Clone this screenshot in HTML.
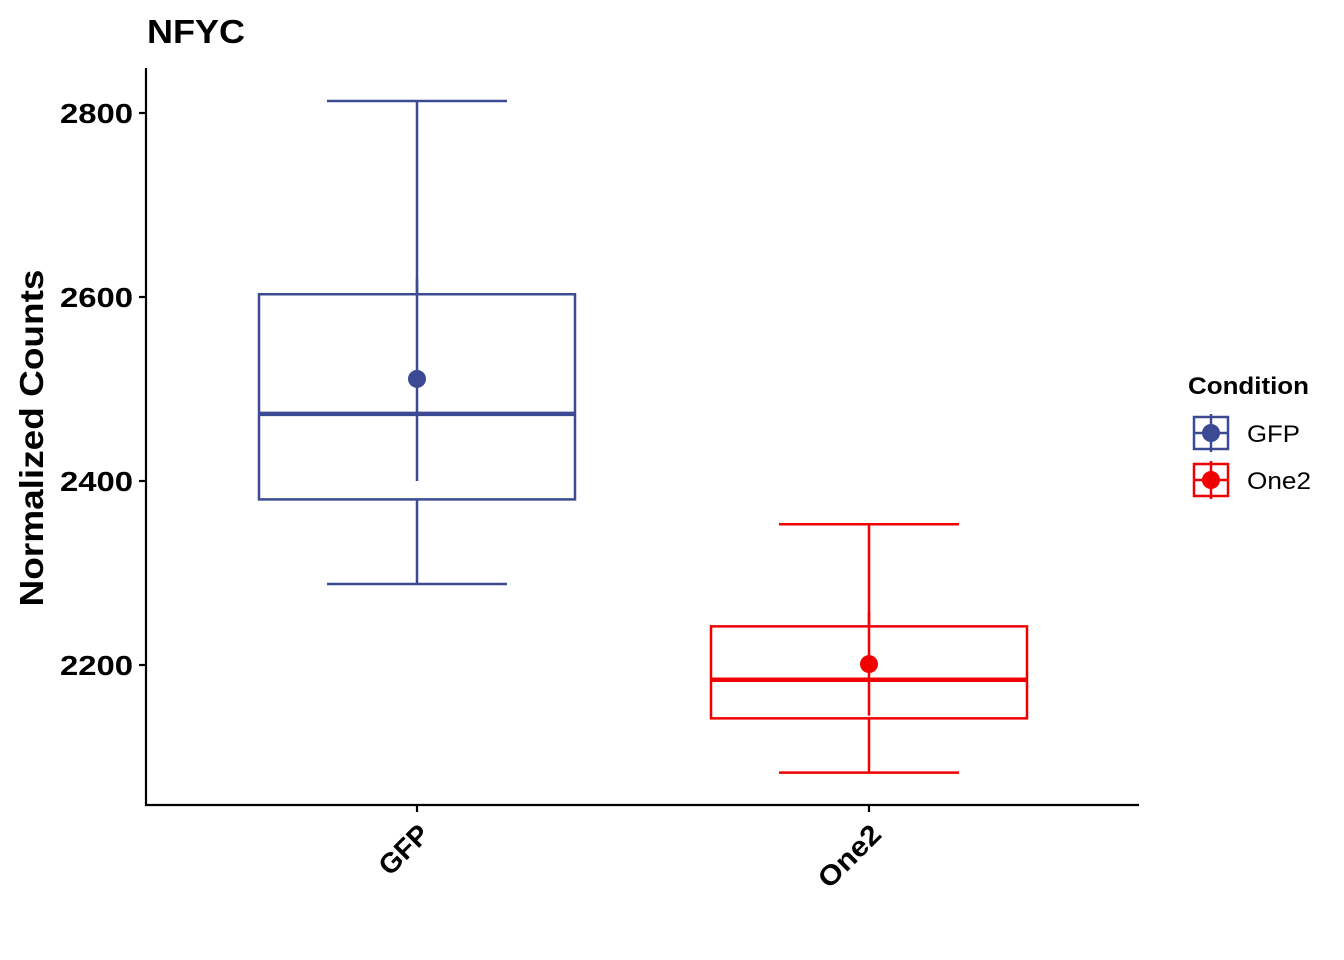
<!DOCTYPE html>
<html><head><meta charset="utf-8">
<style>
html,body{margin:0;padding:0;background:#fff;}
svg{display:block;font-family:"Liberation Sans",Arial,sans-serif;}
</style></head>
<body>
<svg id="chart" width="1344" height="960" viewBox="0 0 1344 960">
<text x="147" y="43" font-size="33" font-weight="bold" textLength="98" lengthAdjust="spacingAndGlyphs">NFYC</text>
<text transform="translate(43,438) rotate(-90)" text-anchor="middle" font-size="33" font-weight="bold" textLength="337" lengthAdjust="spacingAndGlyphs">Normalized Counts</text>
<g id="marks"></g>
<line x1="146" y1="68" x2="146" y2="806" stroke="#000" stroke-width="2.2"/>
<line x1="145" y1="805" x2="1139" y2="805" stroke="#000" stroke-width="2.2"/>
<g id="axes"></g>
<text x="1188" y="394" font-size="24" font-weight="bold" textLength="121" lengthAdjust="spacingAndGlyphs">Condition</text>
<g id="legend"></g>
</svg>
<script>
const categories = ["GFP","One2"];
const colors = ["#3B4A93","#F00000"];
const whiskerLow = [2288,2083];
const q1 = [2380,2142];
const medians = [2473,2184];
const q3 = [2603,2242];
const whiskerHigh = [2813,2353];
const means = [2511,2201];
const errLow = [2400,2145];
const errHigh = [2620,2258];
const yTicks = [2200,2400,2600,2800];

const NS="http://www.w3.org/2000/svg";
function y(v){return 665-(v-2200)*0.92;}
function x(i){return 417+i*452;}
function mk(tag,attrs,parent){const e=document.createElementNS(NS,tag);for(const k in attrs)e.setAttribute(k,attrs[k]);parent.appendChild(e);return e;}
const marks=document.getElementById('marks'), axes=document.getElementById('axes'), legend=document.getElementById('legend');

yTicks.forEach(t=>{
  const l=mk('line',{x1:139,x2:146,y1:y(t),y2:y(t),stroke:'#000','stroke-width':2.2},axes);
  
  
  const tx=mk('text',{x:133,y:y(t)+10,'text-anchor':'end','font-size':28,'font-weight':'bold',textLength:73,lengthAdjust:'spacingAndGlyphs'},axes);
  tx.textContent=t;
  
  
});
categories.forEach((c,i)=>{
  const cx=x(i), col=colors[i];
  const l=mk('line',{x1:cx,x2:cx,y1:805,y2:812,stroke:'#000','stroke-width':2.2},axes);
  
  
  const tx=mk('text',{transform:`translate(${cx+14},${836}) rotate(-45)`,'text-anchor':'end','font-size':28,'font-weight':'bold',lengthAdjust:'spacingAndGlyphs'},axes);
  tx.setAttribute('textLength', i===0?58:76);
  tx.textContent=c;
  
  

  const g=mk('g',{stroke:col,'stroke-width':2.5,fill:'none'},marks);
  
  
  mk('line',{x1:cx,x2:cx,y1:y(whiskerHigh[i]),y2:y(q3[i])},g);
  mk('line',{x1:cx,x2:cx,y1:y(q1[i]),y2:y(whiskerLow[i])},g);
  mk('line',{x1:cx-90,x2:cx+90,y1:y(whiskerHigh[i]),y2:y(whiskerHigh[i])},g);
  mk('line',{x1:cx-90,x2:cx+90,y1:y(whiskerLow[i]),y2:y(whiskerLow[i])},g);
  mk('rect',{x:cx-158,y:y(q3[i]),width:316,height:y(q1[i])-y(q3[i])},g);
  mk('line',{x1:cx-158,x2:cx+158,y1:y(medians[i]),y2:y(medians[i]),'stroke-width':4.5},g);
  const eb=mk('line',{x1:cx,x2:cx,y1:y(errHigh[i]),y2:y(errLow[i])},g);
  
  
  const m=mk('circle',{cx:cx,cy:y(means[i]),r:9,fill:col,stroke:'none'},marks);
  
  

  const ly=433+i*47;
  const lg=mk('g',{stroke:col,'stroke-width':2.5,fill:'none'},legend);
  
  
  mk('rect',{x:1194,y:ly-16,width:34,height:32},lg);
  mk('line',{x1:1194,x2:1228,y1:ly,y2:ly},lg);
  mk('line',{x1:1211,x2:1211,y1:ly-19,y2:ly+19},lg);
  mk('circle',{cx:1211,cy:ly,r:9,fill:col,stroke:'none'},lg);
  const lt=mk('text',{x:1247,y:ly+9,'font-size':24,textLength:i===0?53:64,lengthAdjust:'spacingAndGlyphs'},legend);
  lt.textContent=c;
  
  
});
</script>
</body></html>
